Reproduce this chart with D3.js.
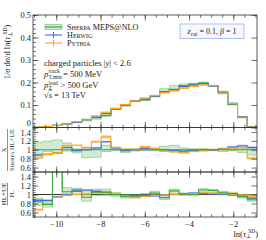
<!DOCTYPE html>
<html>
<head>
<meta charset="utf-8">
<script src="https://cdn.jsdelivr.net/npm/d3@7"></script>
<style>
  body { margin: 0; background: #fff; }
  text { font-family: "Liberation Serif", "DejaVu Serif", serif; fill: #222; }
  .tick line { stroke: #333; stroke-width: 0.7; }
  .tick text { font-size: 8.4px; }
</style>
</head>
<body>
<svg id="chart" width="266" height="240"></svg>
<script>
// bin edges in ln(tau_perp^SD)
const binEdges = [-11.05, -10.61, -10.17, -9.73, -9.29, -8.85, -8.41, -7.97, -7.53, -7.09, -6.65,
  -6.21, -5.77, -5.33, -4.89, -4.45, -4.01, -3.57, -3.13, -2.69, -2.25, -1.81, -1.37, -0.93];

// main panel: normalised distributions
const sherpa = [0.0012, 0.0045, 0.0096, 0.0156, 0.0236, 0.0352, 0.044, 0.053, 0.081, 0.101, 0.118,
  0.122, 0.138, 0.160, 0.170, 0.186, 0.193, 0.198, 0.186, 0.155, 0.102, 0.045, 0.0025];
const herwig = [0.001, 0.004, 0.009, 0.0164, 0.023, 0.035, 0.046, 0.062, 0.084, 0.099, 0.118,
  0.126, 0.139, 0.160, 0.168, 0.182, 0.189, 0.195, 0.184, 0.158, 0.108, 0.049, 0.0026];
const pythia = [0.001, 0.004, 0.009, 0.017, 0.026, 0.037, 0.052, 0.068, 0.085, 0.102, 0.118,
  0.131, 0.141, 0.155, 0.163, 0.175, 0.183, 0.189, 0.186, 0.158, 0.106, 0.047, 0.002];

// ratio panel 1: X / Sherpa HL+UE
const sherpaBandHi1 = [1.16, 1.19, 1.22, 1.15, 1.02, 1.02, 1.02, 1.10, 1.05, 1.02, 1.02, 1.04,
  1.04, 1.08, 1.10, 1.04, 1.02, 1.02, 1.01, 1.04, 1.02, 1.04, 1.02];
const sherpaBandLo1 = [0.90, 0.96, 1.00, 0.97, 0.93, 0.82, 0.83, 0.96, 0.98, 0.94, 0.97, 0.98,
  0.98, 0.96, 0.98, 0.94, 0.98, 0.98, 0.98, 0.96, 0.98, 0.94, 0.88];
const herwigR1 = [0.88, 0.90, 0.93, 1.05, 0.98, 1.00, 1.04, 1.18, 1.04, 0.98, 1.00, 1.03, 1.01,
  1.00, 0.98, 0.97, 0.99, 1.00, 0.99, 1.02, 1.06, 1.09, 1.05];
const pythiaR1 = [0.82, 0.89, 0.94, 1.09, 1.10, 1.05, 1.18, 1.29, 1.05, 1.01, 1.00, 1.07, 1.02,
  0.97, 0.95, 0.93, 0.96, 0.98, 1.00, 1.02, 1.04, 1.05, 0.81];
const herwigErr = [0.03, 0.02, 0.02, 0.02, 0.02, 0.02, 0.03, 0.03, 0.03, 0.02, 0.02, 0.02, 0.02,
  0.02, 0.02, 0.02, 0.02, 0.02, 0.02, 0.02, 0.03, 0.03, 0.04];
const pythiaErr = [0.03, 0.02, 0.02, 0.02, 0.02, 0.03, 0.03, 0.04, 0.03, 0.02, 0.02, 0.02, 0.02,
  0.02, 0.02, 0.02, 0.02, 0.02, 0.02, 0.02, 0.03, 0.03, 0.04];

// ratio panel 2: HL+UE / PL
const sherpaR2 = [0.84, 0.78, 3.0, 1.06, 1.07, 0.94, 1.05, 1.05, 1.00, 0.96, 0.97, 0.98, 1.03,
  0.93, 1.08, 1.01, 1.00, 1.10, 1.09, 1.04, 1.02, 0.96, 0.92];
const sherpaBandHi2 = [0.92, 0.84, 3.0, 1.15, 1.14, 1.08, 1.12, 1.12, 1.04, 1.00, 1.00, 1.02,
  1.07, 0.98, 1.12, 1.03, 1.03, 1.13, 1.11, 1.07, 1.05, 0.99, 0.99];
const sherpaBandLo2 = [0.76, 0.72, 3.0, 0.98, 1.00, 0.85, 0.98, 0.98, 0.96, 0.92, 0.93, 0.95,
  0.98, 0.89, 1.02, 0.98, 0.97, 1.05, 1.05, 1.00, 0.99, 0.92, 0.85];
const herwigR2 = [0.87, 0.87, 0.95, 1.00, 1.10, 1.10, 1.07, 1.05, 1.00, 0.96, 0.97, 0.98, 0.97,
  0.99, 1.00, 1.02, 1.03, 1.02, 1.01, 1.00, 0.99, 0.96, 0.90];
const pythiaR2 = [0.66, 0.78, 0.94, 0.98, 1.00, 1.01, 1.04, 1.04, 1.02, 0.96, 0.93, 0.96, 0.98,
  0.99, 1.00, 1.01, 1.02, 1.04, 1.03, 1.02, 1.00, 0.99, 0.97];

const xMajor = [-10, -8, -6, -4, -2];
const xMinor = d3.range(-11, -0.99, 0.5);
const mainTicks = [0, 0.1, 0.2, 0.3, 0.4, 0.5];
const ratioTicks = [0.6, 0.8, 1.0, 1.2, 1.4];

const width = 266, height = 240;
const L = 33, R = 257;
const panels = {
  main: { top: 15, bottom: 127.5 },
  r1: { top: 127.5, bottom: 172 },
  r2: { top: 172, bottom: 217 }
};

const col = {
  green: "#3aa53a", greenFill: "rgba(70,175,70,0.25)", greenEdge: "rgba(70,175,70,0.55)",
  blue: "#3f6fe6", blueFill: "rgba(90,130,245,0.35)",
  orange: "#ffa31a", orangeFill: "rgba(255,175,60,0.45)"
};

const svg = d3.select("#chart");
const x = d3.scaleLinear().domain([binEdges[0], binEdges[binEdges.length - 1]]).range([L, R]);
const yMain = d3.scaleLinear().domain([0, 0.5]).range([panels.main.bottom, panels.main.top]);
const yR1 = d3.scaleLinear().domain([0.5, 1.5]).range([panels.r1.bottom, panels.r1.top]);
const yR2 = d3.scaleLinear().domain([0.5, 1.5]).range([panels.r2.bottom, panels.r2.top]);

const n = binEdges.length - 1;
const stepPts = (vals) => binEdges.map((e, i) => [e, vals[Math.min(i, n - 1)]]);

function stepLine(y) {
  return d3.line().x(d => x(d[0])).y(d => y(d[1])).curve(d3.curveStepAfter);
}
function stepArea(y) {
  return d3.area().x(d => x(d[0])).y0(d => y(d[1])).y1(d => y(d[2])).curve(d3.curveStepAfter);
}
function bandPts(lo, hi) {
  return binEdges.map((e, i) => [e, lo[Math.min(i, n - 1)], hi[Math.min(i, n - 1)]]);
}

// clip paths
const defs = svg.append("defs");
Object.entries(panels).forEach(([k, p]) => {
  defs.append("clipPath").attr("id", "clip-" + k)
    .append("rect").attr("x", L).attr("y", p.top).attr("width", R - L).attr("height", p.bottom - p.top);
});

function panelGroup(key) {
  return svg.append("g").attr("clip-path", `url(#clip-${key})`);
}

// ---- main panel ----
const gm = panelGroup("main");
const sLo = sherpa.map((v, i) => v * sherpaBandLo1[i]);
const sHi = sherpa.map((v, i) => v * sherpaBandHi1[i]);
gm.append("path").attr("d", stepArea(yMain)(bandPts(sLo, sHi)))
  .attr("fill", col.greenFill).attr("stroke", col.greenEdge).attr("stroke-width", 0.7);
gm.append("path").attr("d", stepArea(yMain)(bandPts(herwig.map((v, i) => v * (1 - herwigErr[i])), herwig.map((v, i) => v * (1 + herwigErr[i])))))
  .attr("fill", col.blueFill);
gm.append("path").attr("d", stepArea(yMain)(bandPts(pythia.map((v, i) => v * (1 - pythiaErr[i])), pythia.map((v, i) => v * (1 + pythiaErr[i])))))
  .attr("fill", col.orangeFill);
gm.append("path").attr("d", stepLine(yMain)(stepPts(sherpa))).attr("fill", "none").attr("stroke", col.green).attr("stroke-width", 1.1);
gm.append("path").attr("d", stepLine(yMain)(stepPts(herwig))).attr("fill", "none").attr("stroke", col.blue).attr("stroke-width", 1.1);
gm.append("path").attr("d", stepLine(yMain)(stepPts(pythia))).attr("fill", "none").attr("stroke", col.orange).attr("stroke-width", 1.1);

// ---- ratio panel 1 ----
const g1 = panelGroup("r1");
g1.append("path").attr("d", stepArea(yR1)(bandPts(sherpaBandLo1, sherpaBandHi1)))
  .attr("fill", col.greenFill).attr("stroke", col.greenEdge).attr("stroke-width", 0.8);
g1.append("path").attr("d", stepArea(yR1)(bandPts(herwigR1.map((v, i) => v - herwigErr[i]), herwigR1.map((v, i) => v + herwigErr[i]))))
  .attr("fill", col.blueFill);
g1.append("path").attr("d", stepArea(yR1)(bandPts(pythiaR1.map((v, i) => v - pythiaErr[i]), pythiaR1.map((v, i) => v + pythiaErr[i]))))
  .attr("fill", col.orangeFill);
g1.append("path").attr("d", stepLine(yR1)(stepPts(herwigR1))).attr("fill", "none").attr("stroke", col.blue).attr("stroke-width", 1.1);
g1.append("path").attr("d", stepLine(yR1)(stepPts(pythiaR1))).attr("fill", "none").attr("stroke", col.orange).attr("stroke-width", 1.1);
g1.append("line").attr("x1", L).attr("x2", R).attr("y1", yR1(1)).attr("y2", yR1(1))
  .attr("stroke", col.green).attr("stroke-width", 1.1);

// ---- ratio panel 2 ----
const g2 = panelGroup("r2");
g2.append("line").attr("x1", L).attr("x2", R).attr("y1", yR2(1)).attr("y2", yR2(1))
  .attr("stroke", "#222").attr("stroke-width", 0.9);
g2.append("path").attr("d", stepArea(yR2)(bandPts(sherpaBandLo2, sherpaBandHi2)))
  .attr("fill", col.greenFill).attr("stroke", col.greenEdge).attr("stroke-width", 0.8);
g2.append("path").attr("d", stepArea(yR2)(bandPts(herwigR2.map((v, i) => v - herwigErr[i]), herwigR2.map((v, i) => v + herwigErr[i]))))
  .attr("fill", col.blueFill);
g2.append("path").attr("d", stepArea(yR2)(bandPts(pythiaR2.map((v, i) => v - pythiaErr[i]), pythiaR2.map((v, i) => v + pythiaErr[i]))))
  .attr("fill", col.orangeFill);
g2.append("path").attr("d", stepLine(yR2)(stepPts(herwigR2))).attr("fill", "none").attr("stroke", col.blue).attr("stroke-width", 1.1);
g2.append("path").attr("d", stepLine(yR2)(stepPts(pythiaR2))).attr("fill", "none").attr("stroke", col.orange).attr("stroke-width", 1.1);
g2.append("path").attr("d", stepLine(yR2)(stepPts(sherpaR2))).attr("fill", "none").attr("stroke", col.green).attr("stroke-width", 1.1);

// ---- axes and frames ----
const fmt = d => String(+d.toFixed(1));

function drawYAxes(y, major, minorStep, labels) {
  const [d0, d1] = y.domain();
  const minor = d3.range(d0, d1 + 1e-9, minorStep);
  const left = svg.append("g").attr("transform", `translate(${L},0)`);
  left.call(d3.axisLeft(y).tickValues(minor).tickSize(-2.8).tickFormat(""));
  left.call(g => g.selectAll(".domain").remove());
  const leftMaj = svg.append("g").attr("transform", `translate(${L},0)`);
  leftMaj.call(d3.axisLeft(y).tickValues(major).tickSize(-5.5).tickPadding(2).tickFormat(labels));
  leftMaj.call(g => g.selectAll(".domain").remove());
  const right = svg.append("g").attr("transform", `translate(${R},0)`);
  right.call(d3.axisRight(y).tickValues(minor).tickSize(-2.8).tickFormat(""));
  right.call(d3.axisRight(y).tickValues(major).tickSize(-5.5).tickFormat(""));
  right.call(g => g.selectAll(".domain").remove());
  return leftMaj;
}

function drawXAxes(p, withLabels) {
  const bottom = svg.append("g").attr("transform", `translate(0,${p.bottom})`);
  bottom.append("g").call(d3.axisBottom(x).tickValues(xMinor).tickSize(-2.8).tickFormat(""));
  bottom.append("g").call(d3.axisBottom(x).tickValues(xMajor).tickSize(-5.5).tickPadding(4)
    .tickFormat(withLabels ? d3.format("d") : ""));
  bottom.selectAll(".domain").remove();
  const top = svg.append("g").attr("transform", `translate(0,${p.top})`);
  top.append("g").call(d3.axisTop(x).tickValues(xMinor).tickSize(-2.8).tickFormat(""));
  top.append("g").call(d3.axisTop(x).tickValues(xMajor).tickSize(-5.5).tickFormat(""));
  top.selectAll(".domain").remove();
}

const mainAxis = drawYAxes(yMain, mainTicks, 0.02, fmt);
// the "0" label sits just above the panel boundary
mainAxis.selectAll(".tick text").filter(d => d === 0).attr("dy", "-0.2em");
const r1Axis = drawYAxes(yR1, ratioTicks, 0.05, fmt);
r1Axis.selectAll(".tick text").filter(d => d === 1.4).attr("dy", "0.45em");
drawYAxes(yR2, ratioTicks, 0.05, fmt);
drawXAxes(panels.main, false);
drawXAxes(panels.r1, false);
drawXAxes(panels.r2, true);
svg.selectAll(".tick text").attr("fill", "#222");

Object.values(panels).forEach(p => {
  svg.append("rect").attr("x", L).attr("y", p.top).attr("width", R - L).attr("height", p.bottom - p.top)
    .attr("fill", "none").attr("stroke", "#333").attr("stroke-width", 0.8);
});

// ---- legend ----
const legend = [
  { label: "Sherpa MEPS@NLO", color: col.green, band: true },
  { label: "Herwig", color: col.blue },
  { label: "Pythia", color: col.orange }
];
const lg = svg.append("g").attr("transform", "translate(45,27)");
legend.forEach((d, i) => {
  const row = lg.append("g").attr("transform", `translate(0,${i * 8})`);
  if (d.band) {
    row.append("rect").attr("x", 0).attr("y", -2.5).attr("width", 17).attr("height", 5)
      .attr("fill", col.greenFill).attr("stroke", col.greenEdge).attr("stroke-width", 0.8);
    row.append("line").attr("x1", 0).attr("x2", 17).attr("stroke", d.color).attr("stroke-width", 1.1);
  } else {
    row.append("line").attr("x1", 0).attr("x2", 17).attr("stroke", d.color).attr("stroke-width", 1.1);
    row.append("line").attr("x1", 8.5).attr("x2", 8.5).attr("y1", -3).attr("y2", 3)
      .attr("stroke", d.color).attr("stroke-width", 1);
  }
  row.append("text").attr("x", 22).attr("y", 2.8).attr("font-size", 8.2)
    .style("font-variant", "small-caps").text(d.label);
});

// ---- annotations ----
const info = svg.append("g").attr("font-size", 8.5);
const t1 = info.append("text").attr("x", 44).attr("y", 66);
t1.append("tspan").text("charged particles |");
t1.append("tspan").attr("font-style", "italic").text("y");
t1.append("tspan").text("| < 2.6");

const t2 = info.append("text").attr("y", 77);
t2.append("tspan").attr("x", 44).attr("font-style", "italic").text("p");
t2.append("tspan").attr("x", 48.6).attr("y", 73).attr("font-size", 5.6).text("track");
t2.append("tspan").attr("x", 48.6).attr("y", 79).attr("font-size", 5.6).text("T,min");
t2.append("tspan").attr("x", 63).attr("y", 77).text("= 500 MeV");

const t3 = info.append("text").attr("y", 87.5);
t3.append("tspan").attr("x", 44).attr("font-style", "italic").text("p");
t3.append("tspan").attr("x", 48.6).attr("y", 85).attr("font-size", 5.6).text("lead");
t3.append("tspan").attr("x", 48.6).attr("y", 90).attr("font-size", 5.6).text("T");
t3.append("tspan").attr("x", 60.5).attr("y", 87.5).text("> 500 GeV");

const t4 = info.append("text").attr("x", 44).attr("y", 97.5);
t4.append("tspan").text("√");
t4.append("tspan").attr("font-style", "italic").style("text-decoration", "overline").text("s");
t4.append("tspan").text(" = 13 TeV");

// z_cut box
svg.append("rect").attr("x", 180).attr("y", 24).attr("width", 64).attr("height", 14.5)
  .attr("fill", "#f7f8ff").attr("stroke", "#a9b8ef").attr("stroke-width", 0.9);
const zt = svg.append("text").attr("x", 212).attr("y", 34).attr("text-anchor", "middle")
  .attr("font-size", 8).attr("fill", "#445");
zt.append("tspan").attr("font-style", "italic").text("z");
zt.append("tspan").attr("font-size", 5.5).attr("dy", 1.5).text("cut");
zt.append("tspan").attr("dy", -1.5).text(" = 0.1, ");
zt.append("tspan").attr("font-style", "italic").text("β");
zt.append("tspan").text(" = 1");

// ---- axis titles ----
const yl = svg.append("text").attr("transform", "translate(10,52) rotate(-90)")
  .attr("text-anchor", "middle").attr("font-size", 8.5);
yl.append("tspan").text("1/");
yl.append("tspan").attr("font-style", "italic").text("σ");
yl.append("tspan").text(" d");
yl.append("tspan").attr("font-style", "italic").text("σ");
yl.append("tspan").text("/d ln(");
yl.append("tspan").attr("font-style", "italic").text("τ");
yl.append("tspan").attr("font-size", 5.5).attr("dy", 1.5).text("⊥");
yl.append("tspan").attr("font-size", 5.5).attr("dy", -5).attr("dx", -3).text("SD");
yl.append("tspan").attr("dy", 3.5).text(")");

const xl = svg.append("text").attr("x", 258).attr("y", 236.5).attr("text-anchor", "end").attr("font-size", 8.5);
xl.append("tspan").text("ln(");
xl.append("tspan").attr("font-style", "italic").text("τ");
xl.append("tspan").attr("font-size", 5.5).attr("dy", 1.5).text("⊥");
xl.append("tspan").attr("font-size", 5.5).attr("dy", -5).attr("dx", -3).text("SD");
xl.append("tspan").attr("dy", 3.5).text(")");

function fraction(cx, cy, num, den, denCaps) {
  const g = svg.append("g").attr("transform", `translate(${cx},${cy}) rotate(-90)`);
  const nt = g.append("text").attr("y", -1.5).attr("text-anchor", "middle").attr("font-size", 7).text(num);
  const dt = g.append("text").attr("y", 6).attr("text-anchor", "middle").attr("font-size", 6.5).text(den);
  if (denCaps) dt.style("font-variant", "small-caps");
  const w = Math.max(nt.node().getComputedTextLength(), dt.node().getComputedTextLength());
  g.append("line").attr("x1", -w / 2).attr("x2", w / 2).attr("stroke", "#222").attr("stroke-width", 0.5);
}
fraction(7.5, 150, "X", "Sherpa HL+UE", true);
fraction(7.5, 194, "HL+UE", "PL", false);
</script>
</body>
</html>
